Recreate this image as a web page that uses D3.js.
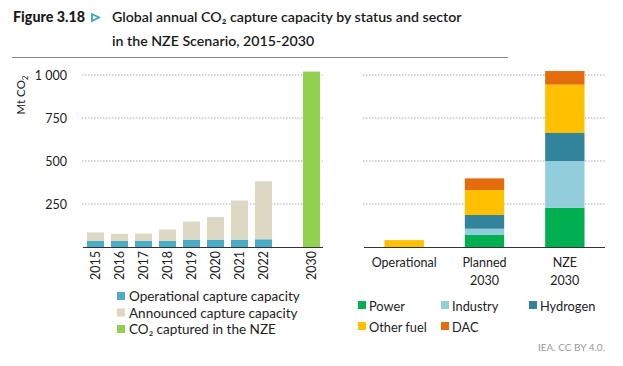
<!DOCTYPE html>
<html><head><meta charset="utf-8">
<script src="https://cdn.jsdelivr.net/npm/d3@7"></script>
<style>body{margin:0;background:#fff}svg{display:block}text{font-family:Lato,"Open Sans",sans-serif}</style>
</head><body><svg id="c" width="623" height="366"></svg>
<script>
const years = ["2015","2016","2017","2018","2019","2020","2021","2022","","2030"];
const operational = [35,35,35,35,43,43,43,45,null,null];
const announced = [50,42,43,66,105,131,227,337,null,null];
const nzeCaptured = [null,null,null,null,null,null,null,null,null,1020];
const yTicks = [250,500,750,1000];

const statusCats = ["Operational","Planned 2030","NZE 2030"];
const sectors = ["Power","Industry","Hydrogen","Other fuel","DAC"];
const power = [0,70,229];
const industry = [0,36,271];
const hydrogen = [0,80,163];
const otherFuel = [40,145,281];
const dac = [0,68,79];

const colors = {op:"#4bacc6", ann:"#dcd8c4", nze:"#92d050",
  Power:"#00b050", Industry:"#92cddc", Hydrogen:"#31849b", "Other fuel":"#ffc000", DAC:"#e46c0a"};

const svg = d3.select("#c");
const y = d3.scaleLinear().domain([0,1000]).range([247,75]);

// Title
const t = svg.append("g");
t.append("text").attr("x",13).attr("y",22).attr("font-size",14.3).attr("font-weight",900).attr("fill","#1a1a1a").text("Figure 3.18");
t.append("path").attr("d","M92,14 L99,17.5 L92,21 Z").attr("fill","none").attr("stroke","#3aa6c4").attr("stroke-width",1.8);
t.append("text").attr("x",112).attr("y",22).attr("font-size",14.2).attr("font-weight",600).attr("fill","#1a1a1a").text("Global annual CO₂ capture capacity by status and sector");
t.append("text").attr("x",112).attr("y",46).attr("font-size",14.2).attr("font-weight",600).attr("fill","#1a1a1a").text("in the NZE Scenario, 2015-2030");
svg.append("line").attr("x1",12).attr("x2",508).attr("y1",57.5).attr("y2",57.5).attr("stroke","#888").attr("stroke-width",1);

// Left panel
const xL = d3.scaleBand().domain(years.map((d,i)=>i)).range([83.5,323.5]).paddingInner(0.29).paddingOuter(0.145);
const gL = svg.append("g");
yTicks.forEach(v=>{
  gL.append("line").attr("x1",82).attr("x2",323).attr("y1",y(v)).attr("y2",y(v))
    .attr("stroke","#aaa").attr("stroke-width",1).attr("stroke-dasharray","1.5,1.5");
});
const yAxis = d3.axisLeft(y).tickValues(yTicks).tickSize(0).tickFormat(d=>d===1000?"1 000":d);
const ya = svg.append("g").attr("transform","translate(70,0)").call(yAxis);
ya.select(".domain").remove();
ya.selectAll("text").attr("font-size",12.5).attr("fill","#222").attr("dx",0).attr("dy","0.35em");
svg.append("text").attr("transform","translate(25,95) rotate(-90)").attr("text-anchor","middle")
  .attr("font-size",11.5).attr("fill","#222").html('Mt CO<tspan font-size="8" dy="3">2</tspan>');

years.forEach((yr,i)=>{
  if(operational[i]!=null){
    gL.append("rect").attr("x",xL(i)).attr("width",xL.bandwidth()).attr("y",y(operational[i])).attr("height",y(0)-y(operational[i])).attr("fill",colors.op);
    gL.append("rect").attr("x",xL(i)).attr("width",xL.bandwidth()).attr("y",y(operational[i]+announced[i])).attr("height",y(operational[i])-y(operational[i]+announced[i])).attr("fill",colors.ann);
  }
  if(nzeCaptured[i]!=null){
    gL.append("rect").attr("x",xL(i)).attr("width",xL.bandwidth()).attr("y",y(nzeCaptured[i])).attr("height",y(0)-y(nzeCaptured[i])).attr("fill",colors.nze);
  }
  if(yr){
    gL.append("text").attr("transform",`translate(${xL(i)+xL.bandwidth()/2+4.5},251) rotate(-90)`)
      .attr("text-anchor","end").attr("font-size",12.5).attr("fill","#222").text(yr);
  }
});
gL.append("line").attr("x1",83).attr("x2",323).attr("y1",y(0)+0.5).attr("y2",y(0)+0.5).attr("stroke","#333").attr("stroke-width",1);

// Left legend
const legL = [["Operational capture capacity",colors.op],["Announced capture capacity",colors.ann],["CO₂ captured in the NZE",colors.nze]];
legL.forEach((d,i)=>{
  const yy = 297+i*16.5;
  svg.append("rect").attr("x",117).attr("y",yy-5).attr("width",8).attr("height",8).attr("fill",d[1]);
  svg.append("text").attr("x",129).attr("y",yy+4).attr("font-size",13.5).attr("fill","#222").text(d[0]);
});

// Right panel
const xR = d3.scaleBand().domain(statusCats).range([364,605]).paddingInner(0.51).paddingOuter(0.255);
const gR = svg.append("g");
yTicks.forEach(v=>{
  gR.append("line").attr("x1",363).attr("x2",605).attr("y1",y(v)).attr("y2",y(v))
    .attr("stroke","#aaa").attr("stroke-width",1).attr("stroke-dasharray","1.5,1.5");
});
const sectorVals = [power,industry,hydrogen,otherFuel,dac];
const data = statusCats.map((c,i)=>{const o={cat:c}; sectors.forEach((s,j)=>o[s]=sectorVals[j][i]); return o;});
const stack = d3.stack().keys(sectors)(data);
stack.forEach(layer=>{
  layer.forEach(d=>{
    if(d[1]-d[0]<=0) return;
    gR.append("rect").attr("x",xR(d.data.cat)).attr("width",xR.bandwidth())
      .attr("y",y(d[1])).attr("height",y(d[0])-y(d[1])).attr("fill",colors[layer.key]);
  });
});
gR.append("line").attr("x1",364).attr("x2",605).attr("y1",y(0)+0.5).attr("y2",y(0)+0.5).attr("stroke","#333").attr("stroke-width",1);
statusCats.forEach(c=>{
  const parts = c.split(" ");
  parts.forEach((p,k)=>{
    gR.append("text").attr("x",xR(c)+xR.bandwidth()/2).attr("y",267+k*18).attr("text-anchor","middle")
      .attr("font-size",12.5).attr("fill","#222").text(p);
  });
});

// Right legend
const legPos = [[358,306],[441,306],[529,306],[358,327],[441,327]];
sectors.forEach((s,i)=>{
  const [lx,ly] = legPos[i];
  svg.append("rect").attr("x",lx).attr("y",ly-5).attr("width",8).attr("height",8).attr("fill",colors[s]);
  svg.append("text").attr("x",lx+11).attr("y",ly+4.5).attr("font-size",12.8).attr("fill","#222").text(s);
});

svg.append("text").attr("x",605).attr("y",351).attr("text-anchor","end").attr("font-size",10).attr("fill","#999").text("IEA. CC BY 4.0.");
</script></body></html>
